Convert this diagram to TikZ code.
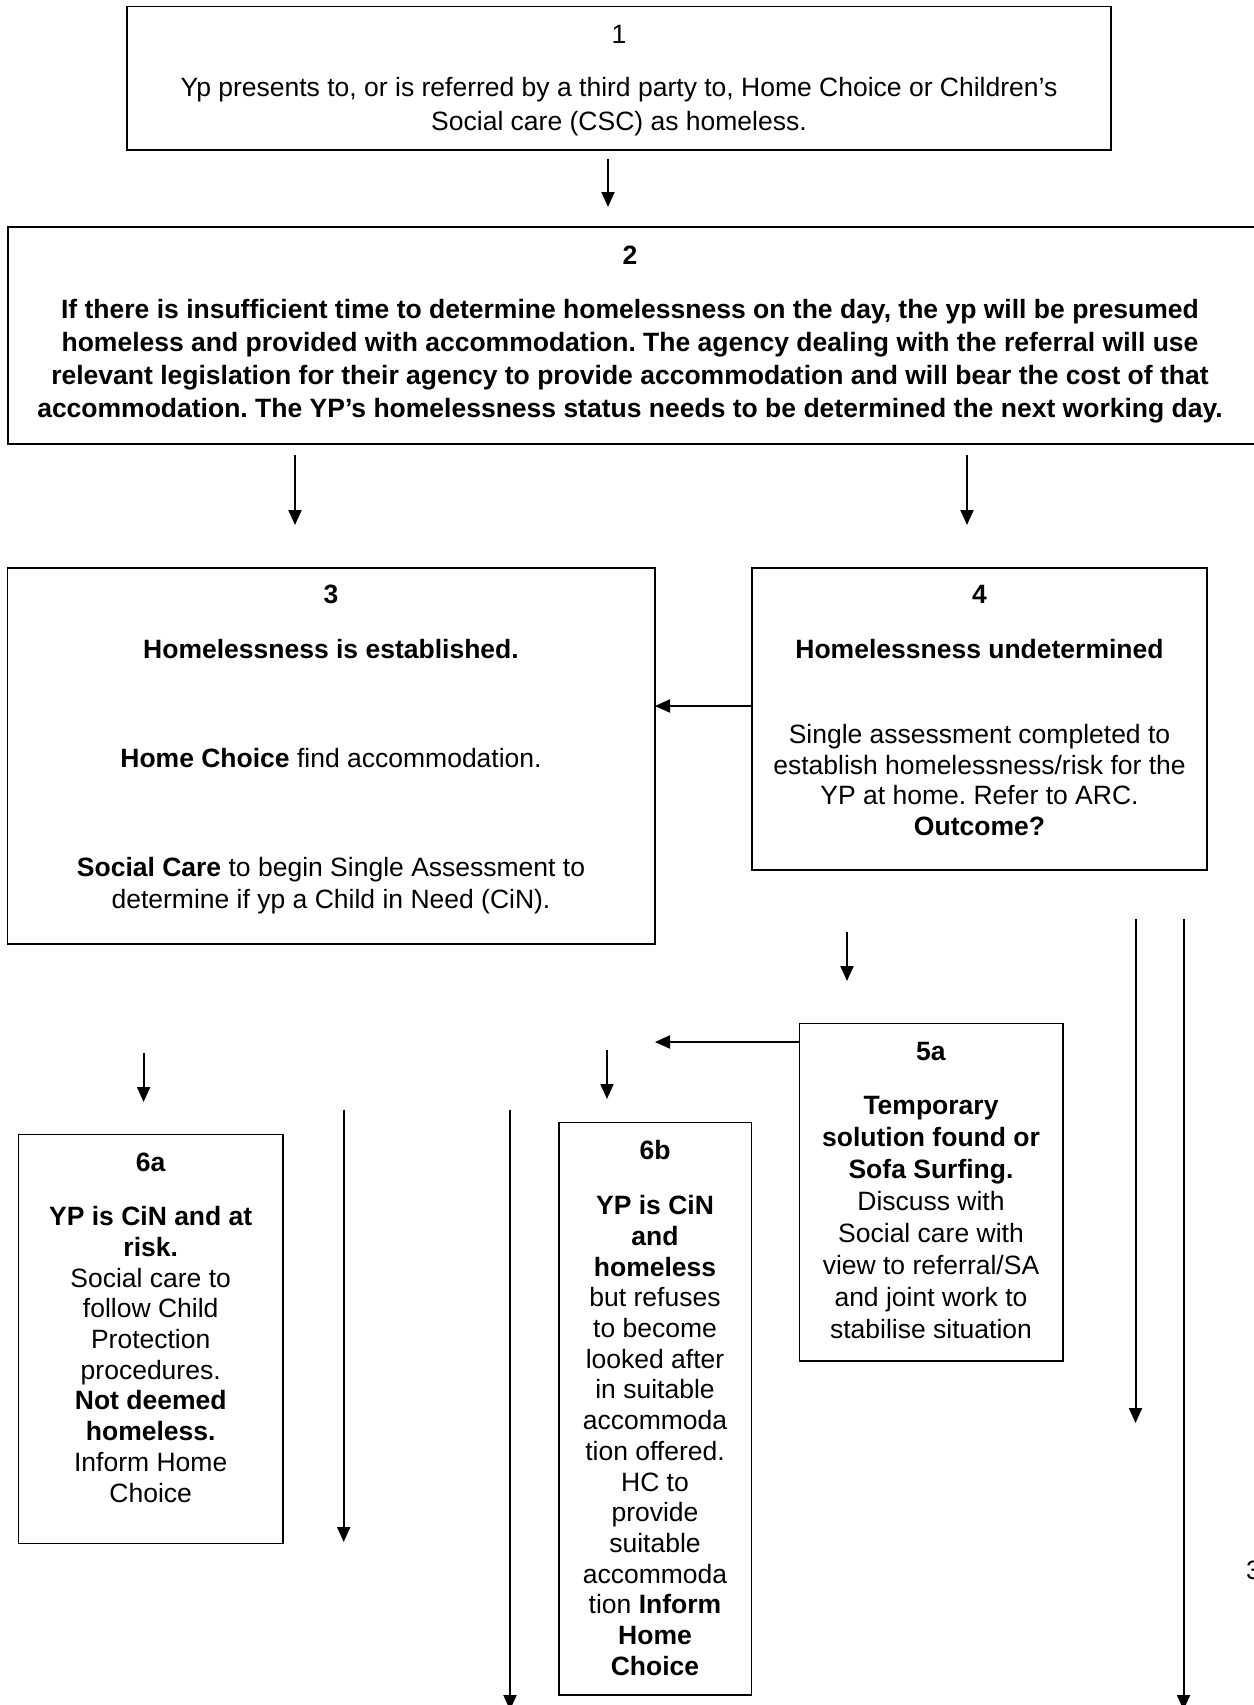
\documentclass[tikz,border=0pt]{standalone}
\usepackage{fontspec}
\setmainfont{Liberation Sans}
\frenchspacing
\usetikzlibrary{arrows.meta}
\tikzset{
  frame/.style={draw, line width=1.5pt, inner sep=0pt, outer sep=0pt, anchor=north west},
  txt/.style={anchor=north, align=center, inner sep=0pt, font=\fontsize{26.5}{#1}\selectfont},
  txt/.default=31,
  boldtxt/.style={txt=#1, font=\fontsize{26.5}{#1}\selectfont\bfseries},
  arr/.style={line width=2pt, -{Triangle[length=15pt,width=13pt]}}
}
\begin{document}
\begin{tikzpicture}[x=1pt,y=-1pt]
  \useasboundingbox (0,0) rectangle (1253,1705);

  % Define the boxes
  \node[frame, minimum width=984pt, minimum height=143.5pt] (1) at (127,6.5) {};
  \node[frame, line width=2pt, minimum width=1260pt, minimum height=217pt] (2) at (7.6,227) {};
  \node[frame, minimum width=647.4pt, minimum height=376pt] (3) at (7.6,568) {};
  \node[frame, minimum width=455pt, minimum height=302pt] (4) at (752,568) {};
  \node[frame, minimum width=263.5pt, minimum height=337.5pt] (5a) at (799.5,1023.5) {};
  \node[frame, minimum width=264.5pt, minimum height=409pt] (6a) at (18.5,1134.5) {};
  \node[frame, minimum width=192.6pt, minimum height=572.5pt] (6b) at (559,1122.5) {};

  % Text of the boxes
  \node[txt=34] (t1) at (619,19.4) {\strut 1\\[19pt]
    Yp presents to, or is referred by a third party to, Home Choice or Children’s\\
    Social care (CSC) as homeless.};
  \node[boldtxt=32.8] (t2) at (630,241) {\strut 2\\[21.7pt]
    If there is insufficient time to determine homelessness on the day, the yp will be presumed\\
    homeless and provided with accommodation. The agency dealing with the referral will use\\
    relevant legislation for their agency to provide accommodation and will bear the cost of that\\
    accommodation. The YP’s homelessness status needs to be determined the next working day.};
  \node[txt=32] (t3) at (331,581) {\strut\textbf{3}\\[23pt]
    \textbf{Homelessness is established.}\\[77pt]
    \textbf{Home Choice} find accommodation.\\[77pt]
    \textbf{Social Care} to begin Single Assessment to\\
    determine if yp a Child in Need (CiN).};
  \node[txt=30.5] (t4) at (979.5,582) {\strut\textbf{4}\\[24.5pt]
    \textbf{Homelessness undetermined}\\[54.5pt]
    Single assessment completed to\\
    establish homelessness/risk for the\\
    YP at home. Refer to ARC.\\
    \textbf{Outcome?}};
  \node[txt=32] (t5a) at (931,1038) {\strut\textbf{5a}\\[22pt]
    \textbf{Temporary}\\
    \textbf{solution found or}\\
    \textbf{Sofa Surfing.}\\
    Discuss with\\
    Social care with\\
    view to referral/SA\\
    and joint work to\\
    stabilise situation};
  \node[txt=30.7] (t6a) at (150.7,1149.5) {\strut\textbf{6a}\\[23.8pt]
    \textbf{YP is CiN and at}\\
    \textbf{risk.}\\
    Social care to\\
    follow Child\\
    Protection\\
    procedures.\\
    \textbf{Not deemed}\\
    \textbf{homeless.}\\
    Inform Home\\
    Choice};
  \node[txt=30.7] (t6b) at (655,1137.5) {\strut\textbf{6b}\\[24.8pt]
    \textbf{YP is CiN}\\
    \textbf{and}\\
    \textbf{homeless}\\
    but refuses\\
    to become\\
    looked after\\
    in suitable\\
    accommoda\\
    tion offered.\\
    HC to\\
    provide\\
    suitable\\
    accommoda\\
    tion \textbf{Inform}\\
    \textbf{Home}\\
    \textbf{Choice}};

  % Page number at the edge
  \node[anchor=base west, inner sep=0pt, font=\fontsize{26.5}{31}\selectfont] (pg) at (1246,1579) {3};

  % Free ends of the arrows
  \coordinate (a12) at (608,159);
  \coordinate (a23) at (295,455);
  \coordinate (a24) at (967,455);
  \coordinate (c43) at (752,706);
  \coordinate (a45) at (847,932);
  \coordinate (l1) at (1135.5,919);
  \coordinate (l2) at (1183.5,919);
  \coordinate (c5) at (799.5,1042);
  \coordinate (a6b) at (607,1050);
  \coordinate (a6a) at (143.6,1053);
  \coordinate (l3) at (343.7,1109.5);
  \coordinate (l4) at (510,1109.5);

  % Draw arrows
  \draw[arr] (a12) -- ++(0,48);
  \draw[arr] (a23) -- ++(0,70);
  \draw[arr] (a24) -- ++(0,70);
  \draw[arr] (c43) -- (c43 -| 3.east);
  \draw[arr] (a45) -- ++(0,49);
  \draw[arr] (l1) -- ++(0,504);
  \draw[arr] (l2) -- ++(0,791);
  \draw[arr] (c5) -- (c5 -| 3.east);
  \draw[arr] (a6b) -- ++(0,49);
  \draw[arr] (a6a) -- ++(0,49);
  \draw[arr] (l3) -- ++(0,432.5);
  \draw[arr] (l4) -- ++(0,600.5);
\end{tikzpicture}
\end{document}
